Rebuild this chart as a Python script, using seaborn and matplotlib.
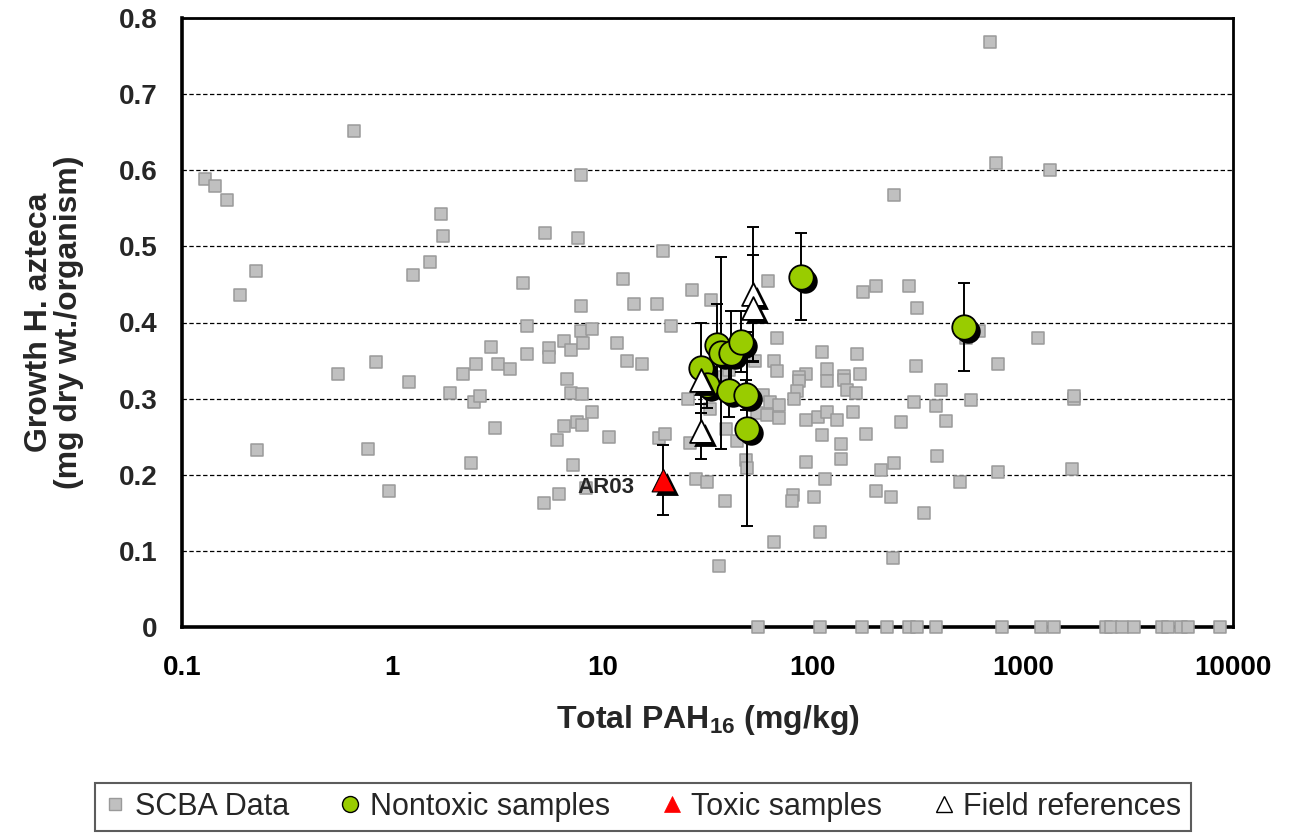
import numpy as np
import pandas as pd
import matplotlib
matplotlib.use("Agg")
import matplotlib.pyplot as plt
import matplotlib.transforms as mtransforms
import matplotlib.ticker as mticker
from matplotlib.lines import Line2D
import seaborn as sns

# ---------------- data ----------------
scba_pah = [
    0.129, 0.144, 0.163, 0.655, 0.225, 0.189, 0.228, 1.71, 1.74, 1.51, 1.26, 0.551,
    0.833, 1.20, 0.769, 0.964, 7.94, 5.33, 7.68, 4.19, 19.45, 12.6, 14.1, 18.2,
    7.94, 4.39, 21.3, 7.88, 8.89, 2.95, 5.57, 6.54, 7.10, 8.05, 11.7, 2.51,
    3.20, 3.62, 4.39, 5.57, 2.18, 13.05, 15.5, 6.76, 1.88, 2.46, 2.62, 7.12,
    8.00, 3.10, 6.57, 7.55, 8.00, 8.89, 6.06, 10.8, 18.5, 19.95, 2.36, 7.22,
    5.25, 6.24, 8.39,
    26.7, 33.0, 61.5, 68.0, 53.5, 65.4, 68.0, 37.8, 40.0, 25.5, 32.4, 58.2,
    62.6, 69.1, 54.1, 60.8, 69.1, 38.9, 26.0, 43.8, 48.0, 48.5, 28.0, 31.5,
    38.2, 65.4, 35.8,
    698, 746, 1350, 244, 174, 201, 286, 314, 622, 535, 1183, 111,
    163, 93.3, 86, 86, 117, 117, 141, 141, 168, 309, 758, 84.5,
    82, 146, 161, 407, 93.3, 106, 117, 130, 156, 305, 386, 565,
    1760, 1760, 264, 433, 111, 180, 136, 93.3, 136, 244, 211, 392,
    115, 500, 758, 1710, 80.6, 79.4, 101, 201, 235, 340, 109, 240,
    54.7, 108, 172, 225, 286, 315, 387, 792, 1222, 1410, 2484, 2625,
    2951, 3388, 4573, 4887, 5652, 6084, 8706,
]
scba_growth = [
    0.588, 0.579, 0.561, 0.652, 0.468, 0.436, 0.233, 0.542, 0.514, 0.480, 0.462, 0.332,
    0.348, 0.322, 0.234, 0.178, 0.594, 0.518, 0.511, 0.452, 0.494, 0.457, 0.424, 0.424,
    0.422, 0.395, 0.395, 0.389, 0.391, 0.368, 0.367, 0.376, 0.364, 0.373, 0.373, 0.346,
    0.345, 0.339, 0.359, 0.355, 0.333, 0.350, 0.345, 0.326, 0.307, 0.295, 0.304, 0.308,
    0.306, 0.261, 0.264, 0.269, 0.265, 0.282, 0.245, 0.250, 0.248, 0.253, 0.215, 0.213,
    0.163, 0.175, 0.183,
    0.443, 0.429, 0.454, 0.379, 0.350, 0.350, 0.336, 0.329, 0.337, 0.299, 0.286, 0.305,
    0.295, 0.292, 0.281, 0.278, 0.275, 0.260, 0.242, 0.244, 0.219, 0.209, 0.194, 0.191,
    0.165, 0.112, 0.080,
    0.769, 0.609, 0.600, 0.568, 0.440, 0.448, 0.448, 0.419, 0.389, 0.380, 0.379, 0.361,
    0.359, 0.333, 0.329, 0.323, 0.339, 0.323, 0.330, 0.325, 0.333, 0.343, 0.345, 0.310,
    0.299, 0.311, 0.308, 0.311, 0.272, 0.276, 0.282, 0.272, 0.282, 0.296, 0.290, 0.298,
    0.299, 0.303, 0.269, 0.271, 0.252, 0.254, 0.241, 0.217, 0.221, 0.215, 0.206, 0.224,
    0.195, 0.191, 0.203, 0.208, 0.173, 0.165, 0.171, 0.179, 0.171, 0.150, 0.125, 0.090,
    0, 0, 0, 0, 0, 0, 0, 0, 0, 0, 0, 0,
    0, 0, 0, 0, 0, 0, 0,
]

nontoxic_pah = [29.5, 31.5, 34.9, 36.5, 40.7, 45.8, 39.9, 48.0, 48.5, 87.7, 524]
nontoxic_growth = [0.340, 0.318, 0.371, 0.360, 0.360, 0.375, 0.310, 0.305, 0.260, 0.460, 0.394]
nontoxic_err = [0.059, 0.030, 0.053, 0.126, 0.055, 0.040, 0.034, 0.020, 0.127, 0.057, 0.058]

toxic_pah = [19.45]
toxic_growth = [0.193]
toxic_err = [0.046]
toxic_labels = ["AR03"]

ref_pah = [52.2, 52.2, 29.6, 29.6]
ref_growth = [0.437, 0.419, 0.325, 0.257]
ref_err = [0.089, 0.070, 0.0, 0.036]

x_ticks = [0.1, 1, 10, 100, 1000, 10000]
x_tick_labels = ["0.1", "1", "10", "100", "1000", "10000"]
y_ticks = [0, 0.1, 0.2, 0.3, 0.4, 0.5, 0.6, 0.7, 0.8]
y_tick_labels = ["0", "0.1", "0.2", "0.3", "0.4", "0.5", "0.6", "0.7", "0.8"]
legend_labels = ["SCBA Data", "Nontoxic samples", "Toxic samples", "Field references"]
x_label = r"Total PAH$_{\mathbf{16}}$ (mg/kg)"
y_label = "Growth H. azteca\n(mg dry wt./organism)"

# ---------------- style ----------------
sns.set_style("white")
plt.rcParams["font.family"] = ["Liberation Sans", "DejaVu Sans"]
plt.rcParams["mathtext.fontset"] = "custom"
plt.rcParams["mathtext.rm"] = "Liberation Sans:bold"
plt.rcParams["mathtext.bf"] = "Liberation Sans:bold"
plt.rcParams["mathtext.it"] = "Liberation Sans:bold:italic"

GREEN = "#99CC00"
RED = "#FF0000"
GRAY_F = "#C0C0C0"
GRAY_E = "#9A9A9A"

fig = plt.figure(figsize=(12.95, 8.33), dpi=100)
ax = fig.add_axes([182 / 1295, 1 - 627 / 833, (1233 - 182) / 1295, (627 - 18) / 833])

scba = pd.DataFrame({"pah": scba_pah, "growth": scba_growth})
nontox = pd.DataFrame({"pah": nontoxic_pah, "growth": nontoxic_growth, "err": nontoxic_err})
tox = pd.DataFrame({"pah": toxic_pah, "growth": toxic_growth, "err": toxic_err})
ref = pd.DataFrame({"pah": ref_pah, "growth": ref_growth, "err": ref_err})

shadow = mtransforms.offset_copy(ax.transData, fig=fig, x=4, y=-4, units="dots")

# SCBA squares
sns.scatterplot(data=scba, x="pah", y="growth", ax=ax, marker="s", s=80,
                color=GRAY_F, edgecolor=GRAY_E, linewidth=1.1, zorder=3, legend=False,
                clip_on=False)

# error bars
for d in (nontox, tox, ref):
    ax.errorbar(d["pah"], d["growth"], yerr=d["err"], fmt="none", ecolor="black",
                elinewidth=1.4, capsize=4, capthick=1.4, zorder=4)

# Nontoxic circles
sns.scatterplot(data=nontox, x="pah", y="growth", ax=ax, marker="o", s=310,
                color="black", edgecolor="black", linewidth=0, zorder=5, legend=False,
                transform=shadow)
sns.scatterplot(data=nontox, x="pah", y="growth", ax=ax, marker="o", s=310,
                color=GREEN, edgecolor="black", linewidth=1.3, zorder=6, legend=False)

# Toxic triangle
sns.scatterplot(data=tox, x="pah", y="growth", ax=ax, marker="^", s=270,
                color="black", edgecolor="black", linewidth=0, zorder=7, legend=False,
                transform=shadow)
sns.scatterplot(data=tox, x="pah", y="growth", ax=ax, marker="^", s=270,
                color=RED, edgecolor="black", linewidth=0.8, zorder=8, legend=False)

# Field references
sns.scatterplot(data=ref, x="pah", y="growth", ax=ax, marker="^", s=270,
                color="black", edgecolor="black", linewidth=0, zorder=9, legend=False,
                transform=shadow)
sns.scatterplot(data=ref, x="pah", y="growth", ax=ax, marker="^", s=270,
                color="white", edgecolor="black", linewidth=1.3, zorder=10, legend=False)

for px, gy, lab in zip(toxic_pah, toxic_growth, toxic_labels):
    ax.annotate(lab, xy=(px, gy), xytext=(-21, -5), textcoords="offset points",
                ha="right", va="center", fontsize=16, fontweight="bold", zorder=11)

# axes
ax.set_xscale("log")
ax.set_xlim(0.1, 10000)
ax.set_ylim(0, 0.8)
ax.set_xticks(x_ticks)
ax.set_xticklabels(x_tick_labels)
ax.xaxis.set_minor_locator(mticker.LogLocator(base=10, subs=np.arange(2, 10)))
ax.xaxis.set_minor_formatter(mticker.NullFormatter())
ax.set_yticks(y_ticks)
ax.set_yticklabels(y_tick_labels)
ax.tick_params(axis="x", which="major", direction="out", length=7, width=1.5,
               labelsize=20, pad=13, colors="black")
ax.tick_params(axis="x", which="minor", direction="out", length=5, width=1.2)
ax.tick_params(axis="y", which="major", direction="inout", length=9, width=1.2,
               labelsize=20, pad=13)
for lab in ax.get_xticklabels() + ax.get_yticklabels():
    lab.set_fontweight("bold")

ax.yaxis.grid(True, linestyle=(0, (3.5, 2)), color="black", linewidth=0.9)
ax.xaxis.grid(False)
ax.set_axisbelow(True)
for side in ("left", "bottom"):
    ax.spines[side].set_linewidth(2.6)
for side in ("top", "right"):
    ax.spines[side].set_linewidth(2.0)
for sp in ax.spines.values():
    sp.set_color("black")
    sp.set_visible(True)

ax.set_xlabel(x_label, fontsize=23, fontweight="bold")
ax.set_ylabel(y_label, fontsize=23, fontweight="bold", linespacing=1.0)
ax.xaxis.set_label_coords(0.5, -0.125)
ax.yaxis.set_label_coords(-0.093, 0.5)

# legend
handles = [
    Line2D([], [], linestyle="none", marker="s", markersize=9,
           markerfacecolor=GRAY_F, markeredgecolor=GRAY_E, markeredgewidth=1.0),
    Line2D([], [], linestyle="none", marker="o", markersize=11.5,
           markerfacecolor=GREEN, markeredgecolor="black", markeredgewidth=1.0),
    Line2D([], [], linestyle="none", marker="^", markersize=11.5,
           markerfacecolor=RED, markeredgecolor=RED, markeredgewidth=0.5),
    Line2D([], [], linestyle="none", marker="^", markersize=11.5,
           markerfacecolor="white", markeredgecolor="black", markeredgewidth=1.0),
]
leg = fig.legend(handles, legend_labels, loc="lower center",
                 bbox_to_anchor=(643 / 1295, 2 / 833), ncol=4, frameon=True,
                 fancybox=False, edgecolor="#333333", fontsize=22,
                 handlelength=0.7, handletextpad=0.3, columnspacing=1.65,
                 borderpad=0.3, borderaxespad=0)
leg.get_frame().set_linewidth(1.5)

fig.savefig("out.png", dpi=100)
